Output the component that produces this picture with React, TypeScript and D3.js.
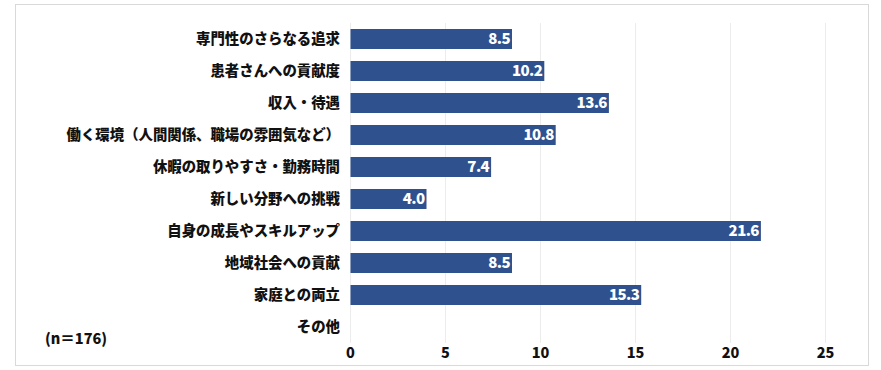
import React, { useEffect, useRef } from 'react';
import * as d3 from 'd3';

const categories = [
  '専門性のさらなる追求',
  '患者さんへの貢献度',
  '収入・待遇',
  '働く環境（人間関係、職場の雰囲気など）',
  '休暇の取りやすさ・勤務時間',
  '新しい分野への挑戦',
  '自身の成長やスキルアップ',
  '地域社会への貢献',
  '家庭との両立',
  'その他',
];
const values = [8.5, 10.2, 13.6, 10.8, 7.4, 4.0, 21.6, 8.5, 15.3, 0];
const ticks = [0, 5, 10, 15, 20, 25];
const note = '(n＝176)';

const FONT = "'Noto Sans CJK JP', 'Noto Sans', sans-serif";

export default function App() {
  const ref = useRef<SVGSVGElement>(null);

  useEffect(() => {
    const svg = d3.select(ref.current);
    svg.selectAll('*').remove();

    svg
      .append('rect')
      .attr('x', 15.5)
      .attr('y', 4.5)
      .attr('width', 853)
      .attr('height', 361)
      .attr('fill', '#fff')
      .attr('stroke', '#d9d9d9');

    const x = d3.scaleLinear().domain([0, 25]).range([350.5, 825.5]);
    const y = d3.scaleBand().domain(categories).range([23, 343]).paddingInner(0.375).paddingOuter(0.1875);

    svg
      .append('g')
      .selectAll('line')
      .data(ticks)
      .enter()
      .append('line')
      .attr('x1', d => x(d))
      .attr('x2', d => x(d))
      .attr('y1', 23)
      .attr('y2', 343)
      .attr('stroke', '#ececec');

    const data = categories.map((c, i) => ({ c, v: values[i] }));

    svg
      .append('g')
      .selectAll('rect')
      .data(data.filter(d => d.v > 0))
      .enter()
      .append('rect')
      .attr('x', x(0))
      .attr('y', d => y(d.c)!)
      .attr('width', d => x(d.v) - x(0))
      .attr('height', y.bandwidth())
      .attr('fill', '#2f528f');

    svg
      .append('g')
      .selectAll('text')
      .data(data.filter(d => d.v > 0))
      .enter()
      .append('text')
      .attr('x', d => x(d.v) - 2)
      .attr('y', d => y(d.c)! + y.bandwidth() / 2)
      .attr('dy', '0.36em')
      .attr('text-anchor', 'end')
      .attr('fill', '#fff')
      .style('font-family', FONT)
      .style('font-weight', 900)
      .style('font-size', '15px')
      .style('letter-spacing', '-0.6px')
      .text(d => d.v.toFixed(1));

    svg
      .append('g')
      .selectAll('text')
      .data(categories)
      .enter()
      .append('text')
      .attr('x', 340)
      .attr('y', d => y(d)! + y.bandwidth() / 2)
      .attr('dy', '0.36em')
      .attr('text-anchor', 'end')
      .attr('fill', '#111')
      .style('font-family', FONT)
      .style('font-weight', 900)
      .style('font-size', '14.4px')
      .text(d => d);

    svg
      .append('g')
      .selectAll('text')
      .data(ticks)
      .enter()
      .append('text')
      .attr('x', d => x(d))
      .attr('y', 353)
      .attr('dy', '0.36em')
      .attr('text-anchor', 'middle')
      .attr('fill', '#111')
      .style('font-family', FONT)
      .style('font-weight', 900)
      .style('font-size', '14.5px')
      .text(d => d);

    svg
      .append('text')
      .attr('x', 45)
      .attr('y', 339)
      .attr('dy', '0.36em')
      .attr('fill', '#111')
      .style('font-family', FONT)
      .style('font-weight', 900)
      .style('font-size', '14.5px')
      .text(note);
  }, []);

  return (
    <svg
      ref={ref}
      width={881}
      height={370}
      style={{ position: 'absolute', left: 0, top: 0, display: 'block' }}
    />
  );
}
